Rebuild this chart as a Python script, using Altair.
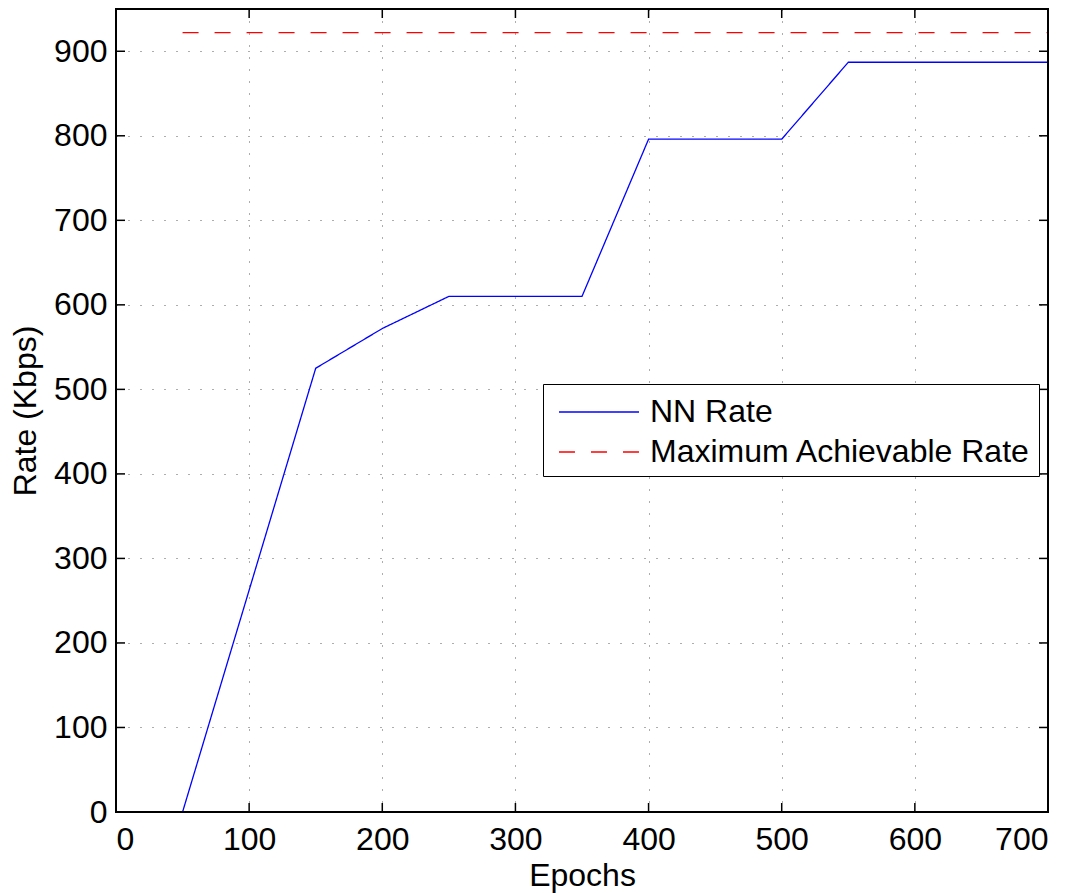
import altair as alt
import pandas as pd

# Training curve of the network rate versus epochs
epochs = [50, 150, 200, 250, 350, 400, 500, 550, 700]
nn_rate = [0, 525, 572, 610, 610, 796, 796, 887, 887]

# Upper bound on the achievable rate
max_epochs = [50, 700]
max_rate = [922, 922]

series_names = ["NN Rate", "Maximum Achievable Rate"]
x_ticks = [0, 100, 200, 300, 400, 500, 600, 700]
y_ticks = [0, 100, 200, 300, 400, 500, 600, 700, 800, 900]

W, H = 932, 803
FONT = "Liberation Sans"
FS = 32

lines = pd.DataFrame(
    {
        "Epochs": epochs + max_epochs,
        "Rate": nn_rate + max_rate,
        "series": [series_names[0]] * len(epochs) + [series_names[1]] * len(max_epochs),
        "order": list(range(len(epochs))) + list(range(len(max_epochs))),
    }
)

x_scale = alt.Scale(domain=[0, 700], nice=False, zero=False)
y_scale = alt.Scale(domain=[0, 950], nice=False, zero=False)

common_axis = dict(
    grid=True, gridDash=[1, 11], gridColor="#333333", gridOpacity=0.8,
    ticks=False, domain=False, labelFontSize=FS, labelFont=FONT,
    labelColor="black", labelOverlap=False, titleFontSize=FS, titleFont=FONT,
    titleFontWeight="normal", titleColor="black", titleBaseline="alphabetic",
)
x_axis = alt.Axis(values=x_ticks, title="Epochs", labelPadding=12, titleY=73, **common_axis)
y_axis = alt.Axis(values=y_ticks, title="Rate (Kbps)", labelPadding=9, titleX=-81, **common_axis)

curves = (
    alt.Chart(lines)
    .mark_line(strokeWidth=1.3)
    .encode(
        x=alt.X("Epochs:Q", scale=x_scale, axis=x_axis),
        y=alt.Y("Rate:Q", scale=y_scale, axis=y_axis),
        order="order:Q",
        color=alt.Color(
            "series:N",
            scale=alt.Scale(domain=series_names, range=["#0000ff", "#ff0000"]),
            legend=alt.Legend(
                title=None, orient="none", legendX=427, legendY=375,
                labelFontSize=FS, labelFont=FONT, labelColor="black",
                symbolType="M-0.632,0H3.579", symbolSize=1444, symbolStrokeWidth=1.3,
                strokeColor="black", fillColor="white", padding=8,
                rowPadding=4, labelOffset=59, labelLimit=700,
            ),
        ),
        strokeDash=alt.StrokeDash(
            "series:N",
            scale=alt.Scale(domain=series_names, range=[[1, 0], [16, 16]]),
            legend=None,
        ),
    )
)

xt = pd.DataFrame({"t": x_ticks})
yt = pd.DataFrame({"t": y_ticks})

tick_bottom = alt.Chart(xt).mark_rule(color="black", strokeWidth=1.5).encode(
    x=alt.X("t:Q", scale=x_scale), y=alt.value(H), y2=alt.value(H - 9))
tick_top = alt.Chart(xt).mark_rule(color="black", strokeWidth=1.5).encode(
    x=alt.X("t:Q", scale=x_scale), y=alt.value(0), y2=alt.value(9))
tick_left = alt.Chart(yt).mark_rule(color="black", strokeWidth=1.5).encode(
    y=alt.Y("t:Q", scale=y_scale), x=alt.value(0), x2=alt.value(9))
tick_right = alt.Chart(yt).mark_rule(color="black", strokeWidth=1.5).encode(
    y=alt.Y("t:Q", scale=y_scale), x=alt.value(W), x2=alt.value(W - 9))

# Axes box around the plotting area
frame = alt.Chart(pd.DataFrame({"k": [0]})).mark_rect(
    fill=None, stroke="black", strokeWidth=2
).encode(x=alt.value(0), x2=alt.value(W), y=alt.value(0), y2=alt.value(H))

chart = (
    alt.layer(curves, tick_bottom, tick_top, tick_left, tick_right, frame)
    .properties(
        width=W, height=H,
        autosize=alt.AutoSizeParams(type="none"),
        padding={"left": 116, "top": 9, "right": 32, "bottom": 81},
    )
    .configure_view(stroke=None)
    .configure(background="white")
)

chart.save("out.html", embed_options={"renderer": "svg", "actions": False})
